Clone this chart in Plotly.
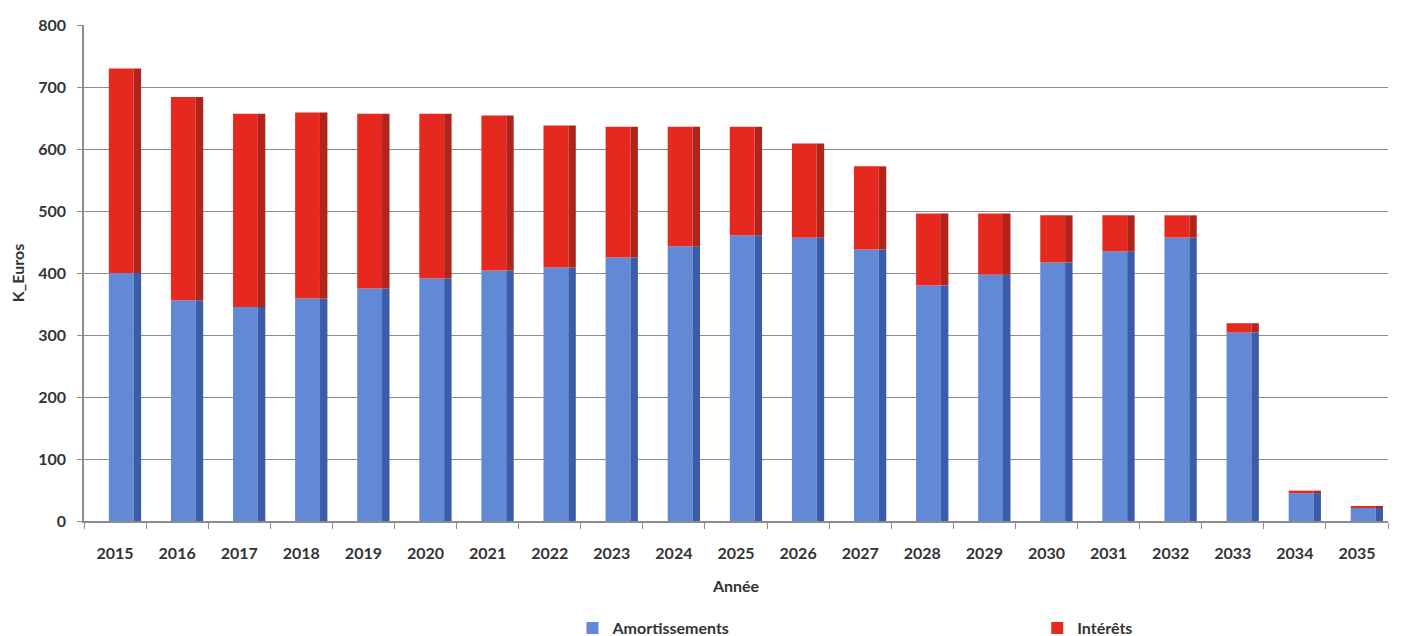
import plotly.graph_objects as go

annees = [str(y) for y in range(2015, 2036)]
amortissements = [400, 356, 345, 359, 375, 391, 404, 409, 425, 443, 461, 457, 438, 380, 397, 417, 435, 457, 304, 45, 21]
interets = [330, 328, 312, 300, 282, 266, 250, 229, 211, 193, 175, 152, 134, 116, 99, 76, 58, 36, 15, 4, 3]

BLUE = "#6189d6"
BLUE_SIDE = "#3b5ca8"
RED = "#e5291f"
RED_SIDE = "#b0241c"
TXT = "#333333"
FONT = "Lato"
BOLD = dict(family=FONT, size=16, color=TXT, weight="bold")

fig = go.Figure()
# front faces
fig.add_trace(go.Bar(x=annees, y=amortissements, base=[0] * len(annees), name="Amortissements",
                     marker=dict(color=BLUE, line=dict(width=0)), width=0.4, offset=-0.1,
                     legend="legend"))
fig.add_trace(go.Bar(x=annees, y=interets, base=amortissements, name="Intérêts",
                     marker=dict(color=RED, line=dict(width=0)), width=0.4, offset=-0.1,
                     legend="legend2"))
# side faces (depth)
fig.add_trace(go.Bar(x=annees, y=amortissements, base=[0] * len(annees), showlegend=False,
                     marker=dict(color=BLUE_SIDE, line=dict(width=0)), width=0.12, offset=0.3,
                     hoverinfo="skip"))
fig.add_trace(go.Bar(x=annees, y=interets, base=amortissements, showlegend=False,
                     marker=dict(color=RED_SIDE, line=dict(width=0)), width=0.12, offset=0.3,
                     hoverinfo="skip"))

fig.update_layout(
    width=1416, height=636,
    margin=dict(l=84, r=28, t=25, b=115, autoexpand=False),
    barmode="overlay",
    plot_bgcolor="white", paper_bgcolor="white",
    font=dict(family=FONT, size=16, color=TXT),
    showlegend=True,
    legend=dict(orientation="h", x=0.3746, xanchor="left", y=-0.216, yanchor="middle",
                font=BOLD, itemwidth=30),
    legend2=dict(orientation="h", x=0.731, xanchor="left", y=-0.216, yanchor="middle",
                 font=BOLD, itemwidth=30),
    xaxis=dict(
        type="category", range=[-0.5, 20.5],
        showline=True, linecolor="#8c8c8c", linewidth=1.5,
        ticks="outside", ticklen=6, tickcolor="#8c8c8c", tickson="boundaries",
        tickfont=BOLD,
        ticklabelstandoff=17,
        title=dict(text="Année", font=BOLD, standoff=20),
        showgrid=False,
    ),
    yaxis=dict(
        range=[0, 800], tickvals=[0, 100, 200, 300, 400, 500, 600, 700, 800],
        showline=True, linecolor="#8c8c8c", linewidth=1.5,
        ticks="outside", ticklen=5, tickcolor="#8c8c8c",
        tickfont=BOLD,
        ticklabelstandoff=8,
        showgrid=True, gridcolor="#8c8c8c", gridwidth=1.2, zeroline=False,
        title=dict(text="K_Euros", font=BOLD, standoff=10),
    ),
)

fig.write_html("out.html")
